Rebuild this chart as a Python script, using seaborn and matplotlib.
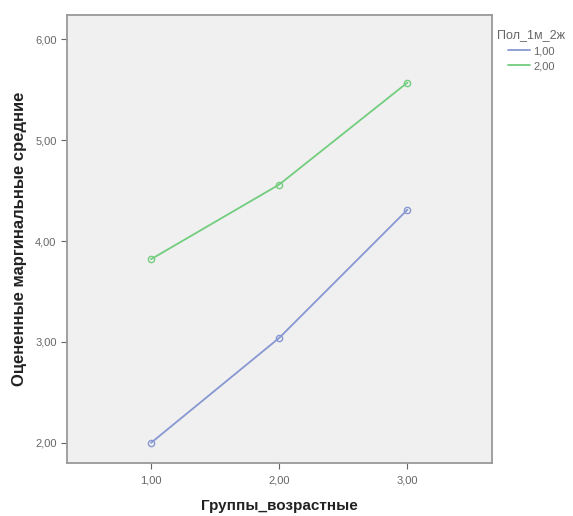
import matplotlib
matplotlib.use("Agg")
import matplotlib.pyplot as plt
import pandas as pd
import seaborn as sns

# Оцененные маргинальные средние
groups = [1, 2, 3]
sex_1 = [2.00, 3.04, 4.31]
sex_2 = [3.82, 4.56, 5.57]
sex_labels = ["1,00", "2,00"]
x_ticks = ["1,00", "2,00", "3,00"]
y_ticks = ["2,00", "3,00", "4,00", "5,00", "6,00"]

df = pd.DataFrame({
    "group": groups * 2,
    "mean": sex_1 + sex_2,
    "sex": [sex_labels[0]] * 3 + [sex_labels[1]] * 3,
})

sns.set_style("white")
plt.rcParams["font.family"] = ["Liberation Sans", "DejaVu Sans"]

fig = plt.figure(figsize=(5.73, 5.16), dpi=100)
ax = fig.add_axes([67 / 573, 1 - 463 / 516, 425 / 573, 448 / 516])
ax.set_facecolor("#f0f0f0")

palette = {"1,00": "#8797d2", "2,00": "#72cd7e"}
sns.lineplot(
    data=df, x="group", y="mean", hue="sex", palette=palette,
    marker="o", markersize=4.5, markerfacecolor="none", markeredgewidth=1.0,
    linewidth=1.3, ax=ax,
)
for line in ax.lines:
    line.set_markeredgecolor(line.get_color())

ax.set_xlim(0.344, 3.66)
ax.set_ylim(1.80, 6.24)
ax.set_xticks([1, 2, 3])
ax.set_xticklabels(x_ticks)
ax.set_yticks([2, 3, 4, 5, 6])
ax.set_yticklabels(y_ticks)
ax.tick_params(axis="both", labelsize=8, colors="#666666", length=4, width=0.8,
               direction="out", left=True, bottom=True)
ax.tick_params(axis="x", pad=5)
for side in ax.spines.values():
    side.set_color("#999999")
    side.set_linewidth(1.3)

ax.set_xlabel("Группы_возрастные", fontsize=11, fontweight="bold", labelpad=10,
              color="#222222")
ax.set_ylabel("Оцененные маргинальные средние", fontsize=12, fontweight="bold",
              labelpad=6, color="#222222")

leg = ax.legend(title="Пол_1м_2ж", loc="upper left", bbox_to_anchor=(1.012, 0.968),
                frameon=False, fontsize=8, title_fontsize=9, handlelength=2.0,
                labelspacing=0.45, handletextpad=0.3, borderpad=0,
                borderaxespad=0)
for h in leg.get_lines():
    h.set_marker("")
for t in leg.get_texts():
    t.set_color("#666666")
leg.get_title().set_color("#666666")

fig.savefig("out.png", dpi=100)
